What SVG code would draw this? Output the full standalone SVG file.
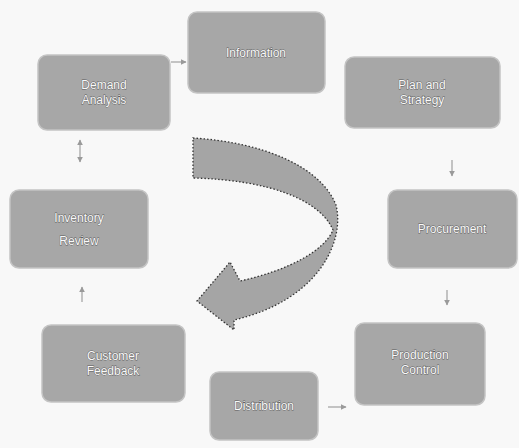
<svg xmlns="http://www.w3.org/2000/svg" width="519" height="448" viewBox="0 0 519 448">
<defs>
<marker id="ah" viewBox="0 0 10 10" refX="9" refY="5" markerWidth="5" markerHeight="5" orient="auto-start-reverse">
<path d="M0,0 L10,5 L0,10 z" fill="#9a9a9a"/>
</marker>
<style>
.node rect{fill:#a7a7a7;stroke:#c4c4c4;stroke-width:1.5}
.node text{font-family:"Liberation Sans",Arial,sans-serif;font-size:12px;fill:#fafafa;stroke:#5a5a5a;stroke-width:0.8;paint-order:stroke;text-anchor:middle}
.conn line{stroke:#a0a0a0;stroke-width:1.2;marker-end:url(#ah)}
</style>
</defs>
<rect width="519" height="448" fill="#f8f8f8"/>
<g id="node-top" class="node"><rect x="188" y="12" width="137" height="81" rx="9"/><text x="256" y="57">Information</text></g>
<g id="node-topleft" class="node"><rect x="38" y="55" width="132" height="75" rx="9"/><text x="104" y="89">Demand</text><text x="104" y="104">Analysis</text></g>
<g id="node-topright" class="node"><rect x="345" y="57" width="155" height="71" rx="9"/><text x="422" y="89">Plan and</text><text x="422" y="104">Strategy</text></g>
<g id="node-leftmid" class="node"><rect x="10" y="190" width="138" height="78" rx="9"/><text x="79" y="222">Inventory</text><text x="79" y="245">Review</text></g>
<g id="node-rightmid" class="node"><rect x="388" y="190" width="129" height="78" rx="9"/><text x="452" y="233">Procurement</text></g>
<g id="node-bottomleft" class="node"><rect x="42" y="325" width="143" height="77" rx="9"/><text x="113" y="360">Customer</text><text x="113" y="375">Feedback</text></g>
<g id="node-bottomright" class="node"><rect x="355" y="323" width="130" height="82" rx="9"/><text x="420" y="359">Production</text><text x="420" y="374">Control</text></g>
<g id="node-bottomcenter" class="node"><rect x="210" y="372" width="108" height="68" rx="9"/><text x="264" y="410">Distribution</text></g>
<g id="connectors" class="conn">
<line x1="171" y1="62" x2="186" y2="62"/>
<line x1="452" y1="160" x2="452" y2="176"/>
<line x1="80" y1="150" x2="80" y2="140" />
<line x1="80" y1="150" x2="80" y2="162" />
<line x1="82" y1="302" x2="82" y2="287"/>
<line x1="447" y1="290" x2="447" y2="305"/>
<line x1="328" y1="407" x2="346" y2="407"/>
<path d="M193,138 C260,142 320,165 336,205 C345,240 320,300 234,320 L234,330 L197,301 L230,262 L240,281 C290,270 325,250 333,230 C320,200 270,180 193,178 Z" fill="#a5a5a5" stroke="#333" stroke-width="1.3" stroke-dasharray="1.5,2"/>
</g>
</svg>
